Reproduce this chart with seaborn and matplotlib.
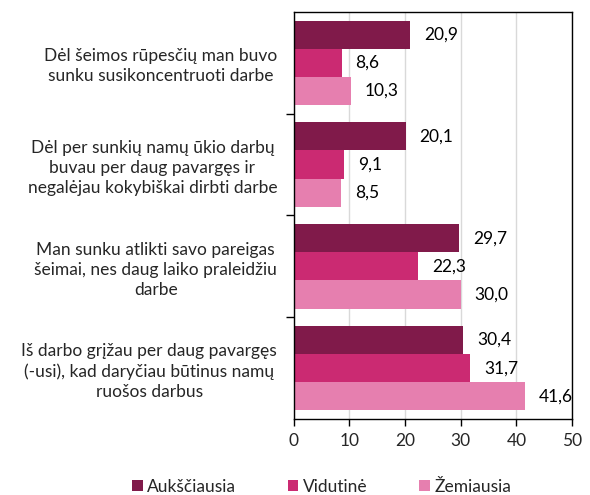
import pandas as pd
import matplotlib
matplotlib.use("Agg")
import matplotlib.pyplot as plt
import seaborn as sns
from matplotlib.ticker import MultipleLocator, FixedLocator

categories = [
    "Dėl šeimos rūpesčių man buvo\nsunku susikoncentruoti darbe",
    "Dėl per sunkių namų ūkio darbų\nbuvau per daug pavargęs ir\nnegalėjau kokybiškai dirbti darbe",
    "Man sunku atlikti savo pareigas\nšeimai, nes daug laiko praleidžiu\ndarbe",
    "Iš darbo grįžau per daug pavargęs\n(-usi), kad daryčiau būtinus namų\nruošos darbus",
]
series = ["Aukščiausia", "Vidutinė", "Žemiausia"]
aukščiausia = [20.9, 20.1, 29.7, 30.4]
vidutinė = [8.6, 9.1, 22.3, 31.7]
žemiausia = [10.3, 8.5, 30.0, 41.6]
colors = ["#801A4A", "#CB2A72", "#E67FAF"]

rows = []
for name, vals in zip(series, [aukščiausia, vidutinė, žemiausia]):
    for cat, v in zip(categories, vals):
        rows.append({"cat": cat, "grupė": name, "val": v})
df = pd.DataFrame(rows)

sns.set_theme(style="white")
plt.rcParams['font.family'] = ['Lato', 'DejaVu Sans']
FS = 12.5

fig = plt.figure(figsize=(5.9, 4.95), dpi=100)
ax = fig.add_axes([0.498, 0.1535, 0.4715, 0.8225])

sns.barplot(data=df, y="cat", x="val", hue="grupė", orient="h",
            palette=colors, width=0.83, gap=0, saturation=1,
            linewidth=0, ax=ax, legend=True, zorder=3)

for cont in ax.containers:
    ax.bar_label(cont, labels=[f"{v:.1f}".replace(".", ",") for v in cont.datavalues],
                 padding=10, fontsize=FS, color="black")

ax.set_xlim(0, 50)
ax.set_ylim(3.5, -0.5)
ax.xaxis.set_major_locator(MultipleLocator(10))
ax.grid(axis="x", color="#D9D9D9", linewidth=1)
ax.set_axisbelow(True)
ax.set_xlabel("")
ax.set_ylabel("")

for s in ax.spines.values():
    s.set_visible(True)
    s.set_color("black")
    s.set_linewidth(1)
    s.set_zorder(5)

ax.tick_params(axis="x", direction="out", length=5, width=1, color="black",
               labelsize=FS, pad=5, bottom=True)
ax.tick_params(axis="y", which="major", length=0, labelsize=FS, pad=12)
ax.yaxis.set_minor_locator(FixedLocator([0.5, 1.5, 2.5]))
ax.tick_params(axis="y", which="minor", direction="out", length=6, width=1,
               color="black", left=True)
for lbl in ax.get_yticklabels():
    lbl.set_multialignment("center")
    lbl.set_linespacing(1.3)

ax.legend(loc="center", bbox_to_anchor=(0.10, -0.167), ncol=3,
          frameon=False, fontsize=FS, handlelength=0.6, handleheight=0.6,
          handletextpad=0.25, columnspacing=3.0, borderaxespad=0)

fig.savefig("out.png", dpi=100)
